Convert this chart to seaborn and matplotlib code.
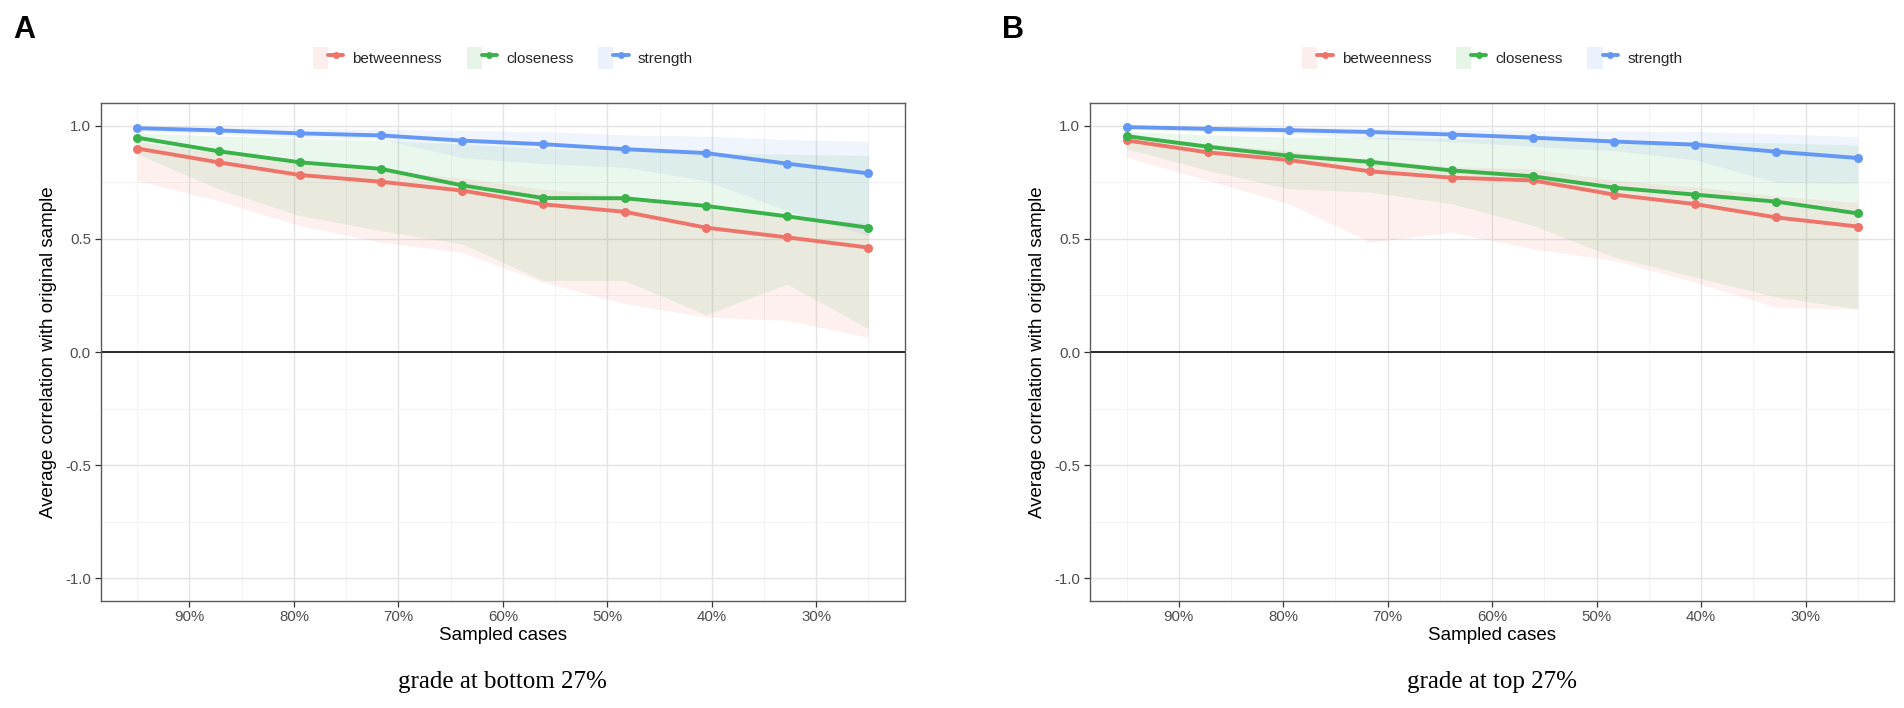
import numpy as np
import pandas as pd
import matplotlib
matplotlib.use("Agg")
import matplotlib.pyplot as plt
import seaborn as sns
from matplotlib.patches import Patch
from matplotlib.lines import Line2D
from matplotlib.legend_handler import HandlerTuple
from matplotlib.ticker import FixedLocator

# ---------------- data ----------------
sampled_props = [0.95, 0.8722, 0.7944, 0.7167, 0.6389, 0.5611, 0.4833, 0.4056, 0.3278, 0.25]
measures = ["betweenness", "closeness", "strength"]
tick_props = [0.9, 0.8, 0.7, 0.6, 0.5, 0.4, 0.3]
tick_labels = ["90%", "80%", "70%", "60%", "50%", "40%", "30%"]
y_ticks = [-1.0, -0.5, 0.0, 0.5, 1.0]
y_tick_labels = ["-1.0", "-0.5", "0.0", "0.5", "1.0"]
panel_letters = ["A", "B"]
captions = ["grade at bottom 27%", "grade at top 27%"]

# Panel A (grade at bottom 27%)
a_between = [0.900, 0.839, 0.783, 0.753, 0.714, 0.653, 0.620, 0.550, 0.507, 0.462]
a_close = [0.948, 0.888, 0.839, 0.810, 0.737, 0.681, 0.680, 0.646, 0.600, 0.550]
a_strength = [0.990, 0.980, 0.967, 0.958, 0.935, 0.919, 0.897, 0.880, 0.833, 0.790]
a_between_lo = [0.758, 0.669, 0.559, 0.485, 0.441, 0.308, 0.214, 0.155, 0.140, 0.065]
a_between_hi = [0.930, 0.880, 0.830, 0.800, 0.770, 0.720, 0.690, 0.630, 0.600, 0.570]
a_close_lo = [0.876, 0.721, 0.603, 0.537, 0.478, 0.316, 0.316, 0.165, 0.300, 0.103]
a_close_hi = [0.970, 0.955, 0.945, 0.935, 0.920, 0.900, 0.890, 0.880, 0.875, 0.869]
a_strength_lo = [0.975, 0.965, 0.950, 0.940, 0.860, 0.833, 0.817, 0.758, 0.625, 0.515]
a_strength_hi = [0.998, 0.995, 0.990, 0.985, 0.980, 0.975, 0.960, 0.955, 0.940, 0.932]

# Panel B (grade at top 27%)
b_between = [0.936, 0.883, 0.849, 0.799, 0.771, 0.759, 0.696, 0.654, 0.595, 0.555]
b_close = [0.955, 0.908, 0.868, 0.841, 0.803, 0.777, 0.727, 0.696, 0.665, 0.613]
b_strength = [0.995, 0.987, 0.981, 0.973, 0.962, 0.948, 0.931, 0.917, 0.886, 0.858]
b_between_lo = [0.862, 0.759, 0.656, 0.486, 0.530, 0.456, 0.405, 0.309, 0.198, 0.190]
b_between_hi = [0.960, 0.920, 0.890, 0.850, 0.820, 0.810, 0.760, 0.730, 0.690, 0.660]
b_close_lo = [0.899, 0.803, 0.722, 0.707, 0.656, 0.560, 0.420, 0.331, 0.243, 0.191]
b_close_hi = [0.975, 0.960, 0.950, 0.950, 0.945, 0.940, 0.935, 0.930, 0.925, 0.915]
b_strength_lo = [0.985, 0.975, 0.965, 0.945, 0.930, 0.910, 0.890, 0.850, 0.750, 0.745]
b_strength_hi = [0.999, 0.997, 0.994, 0.990, 0.985, 0.980, 0.978, 0.975, 0.965, 0.953]

panels = [
    {"mean": [a_between, a_close, a_strength],
     "lo": [a_between_lo, a_close_lo, a_strength_lo],
     "hi": [a_between_hi, a_close_hi, a_strength_hi]},
    {"mean": [b_between, b_close, b_strength],
     "lo": [b_between_lo, b_close_lo, b_strength_lo],
     "hi": [b_between_hi, b_close_hi, b_strength_hi]},
]

colors = {"betweenness": "#EE746A", "closeness": "#3AB24A", "strength": "#6598F4"}

# ---------------- style ----------------
sns.set_theme(style="white")
plt.rcParams["font.family"] = ["Liberation Sans", "DejaVu Sans"]

W, H = 1904, 708
fig = plt.figure(figsize=(W / 100, H / 100), dpi=100)

ax_left_px = [100.7, 1090.0]
ax_w_px = 804.3
ax_top_px, ax_bot_px = 103.3, 600.7

for i, pdata in enumerate(panels):
    l = ax_left_px[i] / W
    b = 1 - ax_bot_px / H
    ax = fig.add_axes([l, b, ax_w_px / W, (ax_bot_px - ax_top_px) / H])

    ax.set_xlim(0.985, 0.215)
    ax.set_ylim(-1.1, 1.1)
    ax.xaxis.set_major_locator(FixedLocator(tick_props))
    ax.xaxis.set_minor_locator(FixedLocator([0.95, 0.85, 0.75, 0.65, 0.55, 0.45, 0.35, 0.25]))
    ax.yaxis.set_major_locator(FixedLocator(y_ticks))
    ax.yaxis.set_minor_locator(FixedLocator([-0.75, -0.25, 0.25, 0.75]))
    ax.grid(which="major", color="#E4E4E4", linewidth=1.0, zorder=0)
    ax.grid(which="minor", color="#F1F1F1", linewidth=0.6, zorder=0)
    ax.set_axisbelow(True)

    long_rows = []
    for m, meas in enumerate(measures):
        for x, v in zip(sampled_props, pdata["mean"][m]):
            long_rows.append({"prop": x, "value": v, "measure": meas})
    df = pd.DataFrame(long_rows)

    for m, meas in enumerate(measures):
        ax.fill_between(sampled_props, pdata["lo"][m], pdata["hi"][m],
                        color=colors[meas], alpha=0.10, linewidth=0, zorder=1)

    ax.axhline(0, color="#1A1A1A", linewidth=1.3, zorder=2)

    sns.lineplot(data=df, x="prop", y="value", hue="measure", hue_order=measures,
                 palette=colors, marker="o", markersize=6.5, markeredgewidth=0,
                 linewidth=2.8, legend=False, ax=ax, zorder=3)

    ax.set_xticks(tick_props)
    ax.set_xticklabels(tick_labels)
    ax.set_yticks(y_ticks)
    ax.set_yticklabels(y_tick_labels)
    ax.tick_params(axis="both", which="major", length=4, width=0.9, color="#333333",
                   labelsize=10.8, labelcolor="#4D4D4D", pad=3, bottom=True, left=True)
    ax.tick_params(axis="both", which="minor", length=0)
    ax.set_xlabel("Sampled cases", fontsize=13.5, color="black", labelpad=2)
    ax.set_ylabel("Average correlation with original sample", fontsize=13.5,
                  color="black", labelpad=6)
    for s in ax.spines.values():
        s.set_color("#5A5A5A")
        s.set_linewidth(1.0)

    handles = []
    for meas in measures:
        handles.append((Patch(facecolor=colors[meas], alpha=0.12, edgecolor="none"),
                        Line2D([], [], color=colors[meas], linewidth=2.8, marker="o",
                               markersize=5, markeredgewidth=0)))
    ax.legend(handles, measures, handler_map={tuple: HandlerTuple(ndivide=None, pad=0)},
              loc="center", bbox_to_anchor=(0.5, 1.091), ncol=3, frameon=False,
              fontsize=11, handlelength=2.0, handleheight=1.9, handletextpad=0.6,
              columnspacing=1.6, borderaxespad=0)

    fig.text((13 + i * 989.3) / W, 1 - 15 / H, panel_letters[i], fontsize=22,
             fontweight="bold", ha="left", va="top", color="black")
    fig.text((ax_left_px[i] + ax_w_px / 2) / W, 1 - 682 / H, captions[i],
             fontsize=18, ha="center", va="center",
             family=["Liberation Serif", "DejaVu Serif"], color="black")

fig.savefig("out.png", dpi=100, facecolor="white")
